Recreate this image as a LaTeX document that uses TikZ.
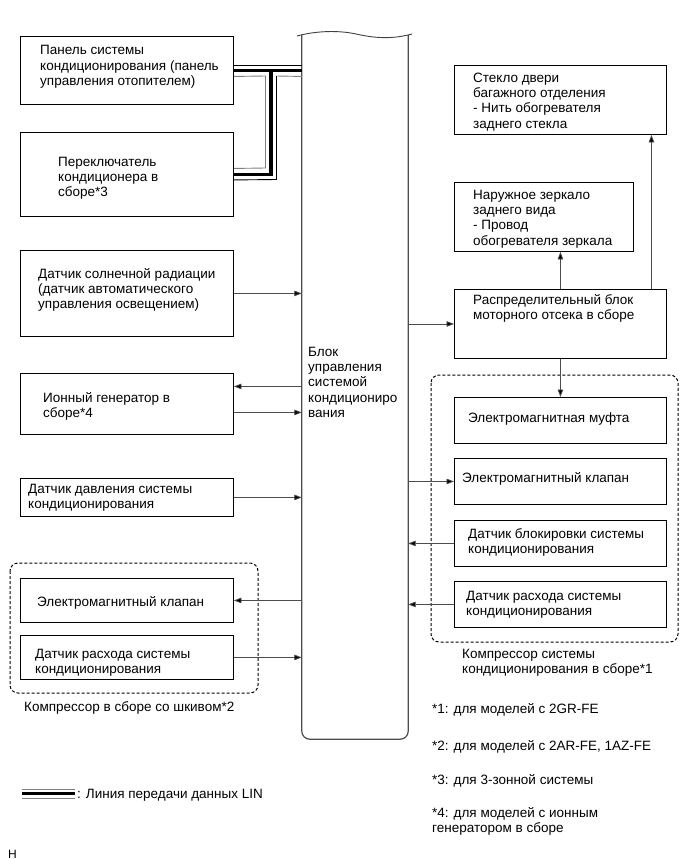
\documentclass[tikz,border=0pt]{standalone}
\usepackage{fontspec}
\setmainfont{Liberation Sans}
\usetikzlibrary{arrows.meta,calc}
\newcommand{\mlt}[1]{\begin{tabular}[t]{@{}l@{}}#1\end{tabular}}
\renewcommand{\arraystretch}{1}
\begin{document}
\begin{tikzpicture}[x=1pt,y=-1pt,
  box/.style={draw=black,line width=0.9pt,anchor=north west,inner sep=0pt},
  txt/.style={anchor=base west,inner sep=0pt,font=\fontsize{13.5}{15.4}\selectfont},
  grp/.style={draw=black,line width=1pt,dash pattern=on 3pt off 2pt,rounded corners=8pt},
  arr/.style={draw=black!70,line width=0.8pt,-{Triangle[length=7.5pt,width=5.5pt,fill=black]}},
  wire/.style={line width=0.9pt}]
\useasboundingbox (0,0) rectangle (689,859);

% ECU
\node[inner sep=0pt,minimum width=106pt,minimum height=704pt] (ecu) at (355,387) {};
\draw[draw=black!70,line width=1.2pt,rounded corners=8pt] (ecu.north west) -- (ecu.south west) -- (ecu.south east) -- (ecu.north east);
\draw[draw=black!75,line width=0.9pt] (297,36) .. controls (315,31) and (338,30) .. (356,34) .. controls (372,37.5) and (390,40) .. (412,34);
\node[txt] (ecut) at (308,356) {\mlt{Блок\\управления\\системой\\кондициониро\\вания}};

% left boxes
\node[box,minimum width=213pt,minimum height=68pt] (panel) at (20,36) {};
\node[txt] (panelt) at (40,55) {\mlt{Панель системы\\кондиционирования (панель\\управления отопителем)}};
\node[box,minimum width=213pt,minimum height=84pt] (switch) at (20,132) {};
\node[txt] (switcht) at (58,166) {\mlt{Переключатель\\кондиционера в\\сборе*3}};
\node[box,minimum width=213pt,minimum height=86pt] (sun) at (20,250) {};
\node[txt] (sunt) at (38,278) {\mlt{Датчик солнечной радиации\\(датчик автоматического\\управления освещением)}};
\node[box,minimum width=213pt,minimum height=61pt] (ion) at (20,373) {};
\node[txt] (iont) at (43,402) {\mlt{Ионный генератор в\\сборе*4}};
\node[box,minimum width=213pt,minimum height=38pt] (press) at (20,478) {};
\node[txt] (presst) at (28,493) {\mlt{Датчик давления системы\\кондиционирования}};
\node[box,minimum width=213pt,minimum height=44pt] (lvalve) at (20,578) {};
\node[txt] (lvalvet) at (37,606) {Электромагнитный клапан};
\node[box,minimum width=213pt,minimum height=44pt] (lflow) at (20,635) {};
\node[txt] (lflowt) at (35,658) {\mlt{Датчик расхода системы\\кондиционирования}};
\draw[grp] (10,563) rectangle (258,693);
\node[txt] (lgrpt) at (24,711) {Компрессор в сборе со шкивом*2};

% right boxes
\node[box,minimum width=212pt,minimum height=69pt] (glass) at (454,65) {};
\node[txt] (glasst) at (473,82) {\mlt{Стекло двери\\багажного отделения\\- Нить обогревателя\\заднего стекла}};
\node[box,minimum width=179pt,minimum height=69pt] (mirror) at (454,182) {};
\node[txt] (mirrort) at (473,199) {\mlt{Наружное зеркало\\заднего вида\\- Провод\\обогревателя зеркала}};
\node[box,minimum width=212pt,minimum height=69pt] (dist) at (454,289) {};
\node[txt] (distt) at (473,304) {\mlt{Распределительный блок\\моторного отсека в сборе}};
\node[box,minimum width=212pt,minimum height=46pt] (clutch) at (454,397) {};
\node[txt] (clutcht) at (468,422) {Электромагнитная муфта};
\node[box,minimum width=212pt,minimum height=46pt] (rvalve) at (454,458) {};
\node[txt] (rvalvet) at (462,482) {Электромагнитный клапан};
\node[box,minimum width=212pt,minimum height=46pt] (lock) at (454,520) {};
\node[txt] (lockt) at (468,538) {\mlt{Датчик блокировки системы\\кондиционирования}};
\node[box,minimum width=212pt,minimum height=46pt] (rflow) at (454,581) {};
\node[txt] (rflowt) at (466,600) {\mlt{Датчик расхода системы\\кондиционирования}};
\draw[grp] (431,375) rectangle (678,642);
\node[txt] (rgrpt) at (462,658) {\mlt{Компрессор системы\\кондиционирования в сборе*1}};

% arrows
\draw[arr] (sun.east) -- (sun.east -| ecu.west);
\draw[arr] ([yshift=17.5pt]ion.east -| ecu.west) -- ([yshift=17.5pt]ion.east);
\draw[arr] ([yshift=-8.5pt]ion.east) -- ([yshift=-8.5pt]ion.east -| ecu.west);
\draw[arr] (press.east) -- (press.east -| ecu.west);
\draw[arr] (lvalve.east -| ecu.west) -- (lvalve.east);
\draw[arr] (lflow.east) -- (lflow.east -| ecu.west);
\draw[arr] (dist.west -| ecu.east) -- (dist.west);
\draw[arr] (dist.north) -- (dist.north |- mirror.south);
\draw[arr] ([xshift=91pt]dist.north) -- ([xshift=91pt]dist.north |- glass.south);
\draw[arr] (dist.south) -- (clutch.north);
\draw[arr] (rvalve.west -| ecu.east) -- (rvalve.west);
\draw[arr] (lock.west) -- (lock.west -| ecu.east);
\draw[arr] (rflow.west) -- (rflow.west -| ecu.east);

% LIN bus
\coordinate (tee) at (271,70);
\draw[line width=3.6pt] (panel.east) -- (panel.east -| ecu.west);
\draw[line width=3.6pt] (tee) -- (tee |- switch.east) -- (switch.east);
\draw[wire,black] ([yshift=4.5pt]panel.east) -- ([yshift=4.5pt]panel.east -| ecu.west);
\draw[wire,black!50] ([yshift=-6pt]panel.east) -- (265.5,76) -- (265.5,168) -- ([yshift=6pt]switch.east);
\draw[wire,black!50] ([yshift=-6pt]panel.east -| ecu.west) -- (276.5,76);
\draw[wire,black] (276.5,76) -- (276.5,179.5) -- ([yshift=-5.5pt]switch.east);

% legend
\draw[wire,black!50] (22,789) -- (75,789);
\draw[line width=3.6pt] (22,793.5) -- (75,793.5);
\draw[wire,black!50] (22,798) -- (75,798);
\node[txt] (legt) at (77,798) {: Линия передачи данных LIN};

% footnotes
\node[txt] (n1) at (432,713) {*1: для моделей с 2GR-FE};
\node[txt] (n2) at (432,750) {*2: для моделей с 2AR-FE, 1AZ-FE};
\node[txt] (n3) at (432,784) {*3: для 3-зонной системы};
\node[txt] (n4) at (432,817) {\mlt{*4: для моделей с ионным\\генератором в сборе}};
\node[txt,font=\fontsize{12}{14}\selectfont] (hh) at (8,858) {H};
\end{tikzpicture}
\end{document}
